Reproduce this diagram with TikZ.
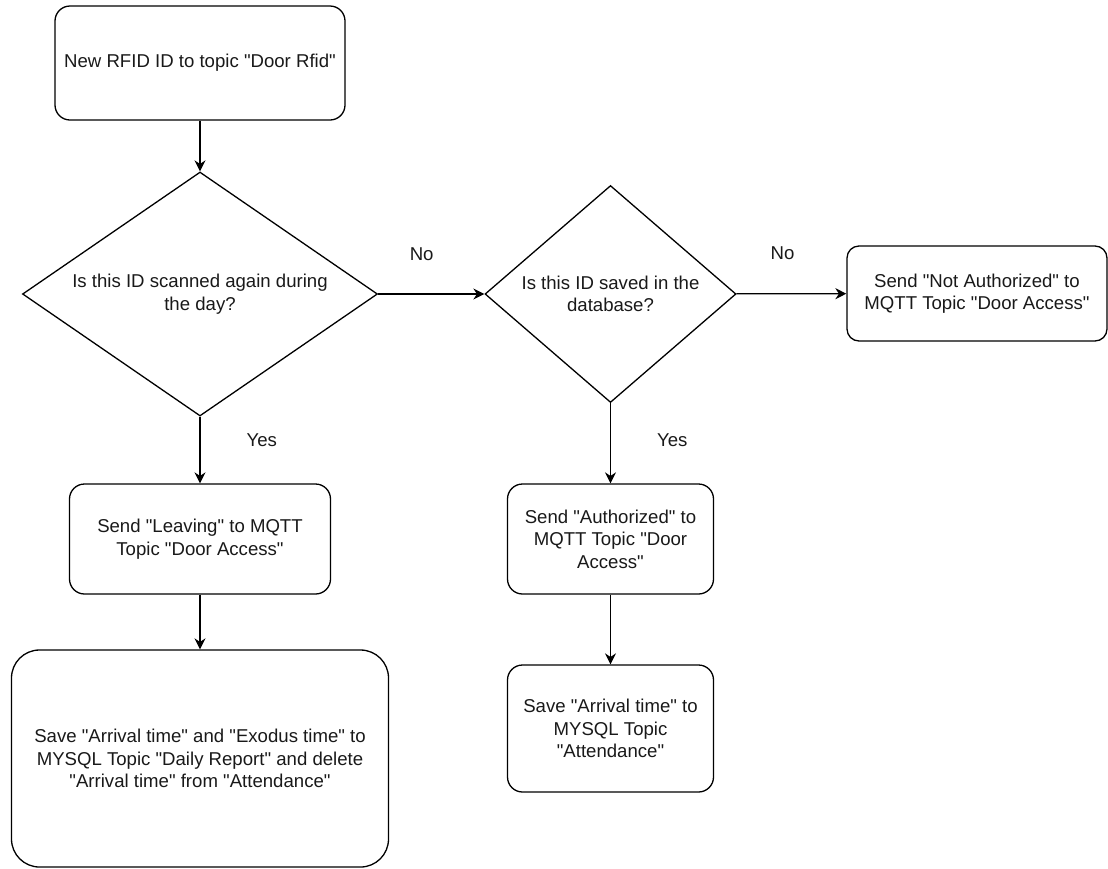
\documentclass[tikz,border=0pt]{standalone}
\usepackage{fontspec}
\setmainfont{Liberation Sans}[Ligatures=TeXOff]
\usetikzlibrary{arrows.meta,shapes.geometric,positioning}

\begin{document}
\begin{tikzpicture}[x=1pt, y=-1pt, line width=1.3pt,
	every node/.style={font=\fontsize{18.6}{22.5}\selectfont, text=black!90, align=center},
	stepbox/.style={draw, rounded corners=15pt, inner sep=0pt},
	decision/.style={draw, diamond, inner sep=0pt, aspect=1.4},
	flow/.style={-{Stealth[length=11pt, width=11pt]}},
	answer/.style={inner sep=0pt}]
	\useasboundingbox (0,0) rectangle (1108,868);
	\node[stepbox, minimum width=290pt, minimum height=114pt] (rfid) at (200,63) {New RFID ID to topic "Door Rfid"};
	\node[decision, minimum width=355pt, minimum height=244pt] (again) at (200,294) {Is this ID scanned again during\\the day?};
	\node[decision, minimum width=251pt, minimum height=217pt] (saved) at (610.5,294) {Is this ID saved in the\\database?};
	\node[stepbox, rounded corners=12pt, minimum width=260pt, minimum height=95pt] (denied) at (977,293.5) {Send "Not Authorized" to\\MQTT Topic "Door Access"};
	\node[stepbox, minimum width=261pt, minimum height=110pt] (leaving) at (200,539) {Send "Leaving" to MQTT\\Topic "Door Access"};
	\node[stepbox, minimum width=206pt, minimum height=110pt] (granted) at (610.5,539) {Send "Authorized" to\\MQTT Topic "Door\\Access"};
	\node[stepbox, rounded corners=28pt, minimum width=377pt, minimum height=217pt] (report) at (200,758.5) {Save "Arrival time" and "Exodus time" to\\MYSQL Topic "Daily Report" and delete\\"Arrival time" from "Attendance"};
	\node[stepbox, minimum width=206pt, minimum height=127pt] (arrival) at (610.5,728.5) {Save "Arrival time" to\\MYSQL Topic\\"Attendance"};
	\draw[flow] (rfid) -- (again);
	\draw[flow] (again) -- node[answer, pos=.41, above=33pt] {No} (saved);
	\draw[flow] (saved) -- node[answer, pos=.42, above=33pt] {No} (denied);
	\draw[flow] (again) -- node[answer, pos=.35, right=46pt] {Yes} (leaving);
	\draw[flow] (saved) -- node[answer, pos=.46, right=46pt] {Yes} (granted);
	\draw[flow] (leaving) -- (report);
	\draw[flow] (granted) -- (arrival);
\end{tikzpicture}
\end{document}
